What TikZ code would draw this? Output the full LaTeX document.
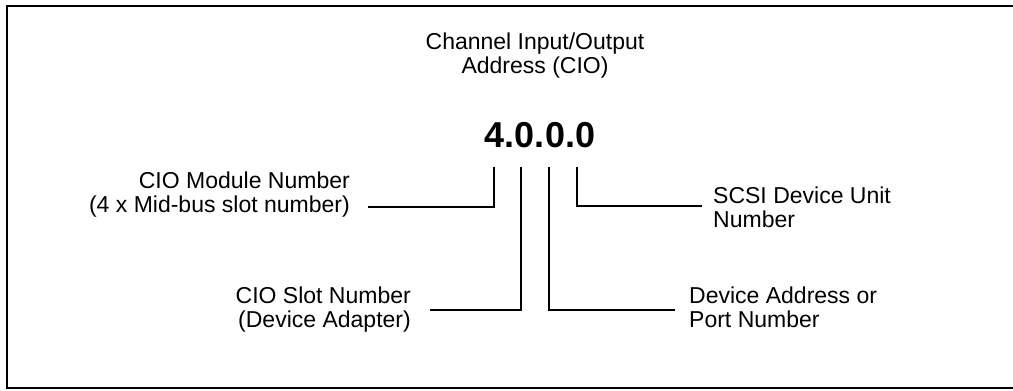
\documentclass[tikz,border=0pt]{standalone}
\usepackage{fontspec}
\setmainfont{Liberation Sans}
\usepackage{tikz}
\usetikzlibrary{calc}

\begin{document}
\begin{tikzpicture}[x=1pt,y=-1pt,
        label/.style={inner sep=0pt,font=\fontsize{23}{23.5}\selectfont},
        leftlabel/.style={label,align=right,anchor=base east},
        rightlabel/.style={label,align=left,anchor=base west},
        leader/.style={line width=1.4pt},
        frame/.style={line width=2.2pt}]
        \useasboundingbox (0,0) rectangle (1013,391);
        % open frame
        \draw[frame] (1013,6) -- (7,6) -- (7,388) -- (1013,388);

        \node[label,align=center,anchor=base] (title) at (535,73) {Channel Input/Output\\Address (CIO)};
        \node[inner sep=0pt,anchor=base,font=\fontsize{36}{36}\selectfont\bfseries] (addr) at (540,147) {4.0.0.0};

        % left side
        \node[leftlabel] (module) at (350,212) {CIO Module Number\\(4 x Mid-bus slot number)};
        \node[leftlabel] (slot) at (411,327) {CIO Slot Number\\(Device Adapter)};
        % right side
        \node[rightlabel] (unit) at (713,227) {SCSI Device Unit\\Number};
        \node[rightlabel] (port) at (689,327) {Device Address or\\Port Number};

        % leader lines under the digits
        \coordinate (d1) at (494,167);
        \coordinate (d2) at (521,167);
        \coordinate (d3) at (549,167);
        \coordinate (d4) at (577,167);
        \coordinate (e1) at (368,207);
        \coordinate (e2) at (430,310);
        \coordinate (e3) at (675,310);
        \coordinate (e4) at (702,206);

        \draw[leader] (d1) |- (e1);
        \draw[leader] (d2) |- (e2);
        \draw[leader] (d3) |- (e3);
        \draw[leader] (d4) |- (e4);
\end{tikzpicture}
\end{document}
